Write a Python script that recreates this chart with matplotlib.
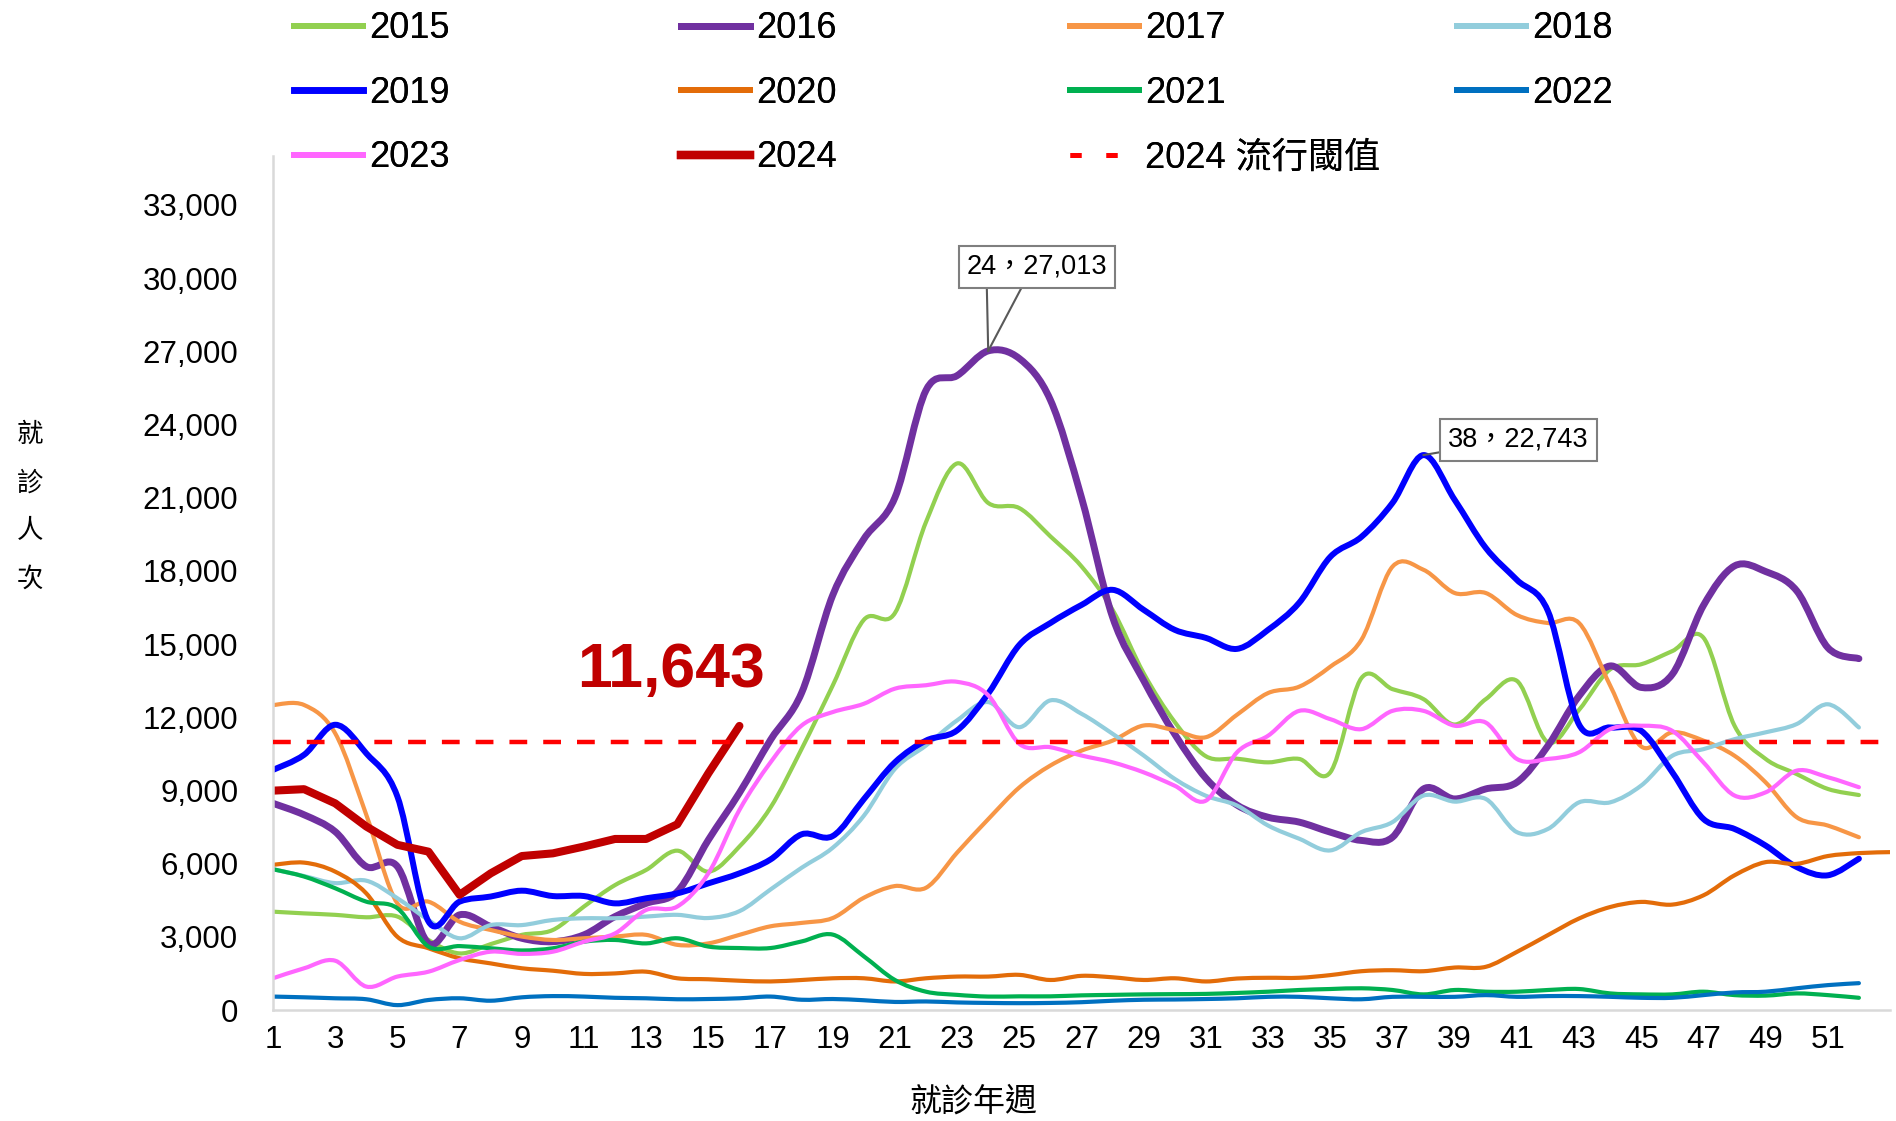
import numpy as np
import matplotlib.pyplot as plt
from matplotlib.path import Path
from matplotlib.patches import PathPatch
from matplotlib.lines import Line2D
from matplotlib.ticker import FuncFormatter

plt.rcParams['font.family'] = ['Liberation Sans', 'Noto Sans CJK TC', 'DejaVu Sans']

weeks = list(range(1, 53))
weeks_2020 = list(range(1, 54))
weeks_2024 = list(range(1, 17))

y2015 = [4030, 3960, 3900, 3800, 3830, 2870, 2320, 2700, 3080, 3280, 4240, 5120, 5740, 6530, 5670, 6700,
         8300, 10700, 13300, 15990, 16270, 20000, 22400, 20780, 20570, 19410, 18180, 16400, 13800, 11800,
         10400, 10300, 10150, 10290, 9740, 13600, 13150, 12740, 11700, 12740, 13490, 10970, 12300, 13960,
         14170, 14710, 15260, 11650, 10290, 9670, 9060, 8810]
y2016 = [8470, 8000, 7310, 5880, 5880, 2730, 3900, 3420, 2940, 2800, 3080, 3830, 4370, 4850, 6970, 8900,
         11070, 13000, 17000, 19300, 21000, 25400, 26000, 27013, 26700, 25000, 21000, 16100, 13500, 11300,
         9500, 8400, 7900, 7700, 7290, 6950, 7080, 9060, 8650, 9060, 9330, 10830, 12870, 14100, 13220,
         13760, 16580, 18200, 17970, 17180, 14850, 14400]
y2017 = [12500, 12500, 11340, 8000, 4370, 4440, 3620, 3280, 3010, 2870, 2940, 3010, 3080, 2670, 2730, 3080,
         3430, 3570, 3770, 4600, 5080, 5010, 6450, 7820, 9120, 10020, 10630, 11040, 11660, 11460, 11180,
         12100, 12990, 13250, 14070, 15170, 18170, 18040, 17090, 17090, 16190, 15860, 15860, 13300, 10800,
         11380, 11040, 10420, 9330, 7900, 7560, 7080]
y2018 = [5770, 5490, 5200, 5300, 4580, 3690, 2940, 3480, 3480, 3690, 3760, 3760, 3830, 3900, 3770, 4050,
         4940, 5830, 6650, 7960, 9880, 10840, 11870, 12620, 11590, 12690, 12140, 11320, 10430, 9470, 8780,
         8380, 7560, 7020, 6540, 7290, 7700, 8790, 8540, 8650, 7290, 7420, 8510, 8510, 9200, 10420, 10690,
         11100, 11380, 11720, 12530, 11580]
y2019 = [9840, 10460, 11690, 10520, 8750, 3630, 4440, 4650, 4890, 4670, 4670, 4370, 4580, 4780, 5190, 5600,
         6170, 7200, 7130, 8640, 10150, 11040, 11460, 12970, 14960, 15860, 16600, 17220, 16400, 15580,
         15250, 14800, 15580, 16690, 18570, 19390, 20780, 22743, 20910, 18940, 17630, 16350, 11700, 11580,
         11440, 9740, 7830, 7420, 6740, 5860, 5520, 6200]
y2020 = [5950, 6040, 5670, 4780, 3000, 2530, 2120, 1910, 1710, 1610, 1480, 1500, 1570, 1300, 1260, 1200,
         1170, 1230, 1300, 1300, 1170, 1300, 1370, 1370, 1440, 1230, 1400, 1340, 1230, 1300, 1170, 1290,
         1320, 1320, 1430, 1590, 1630, 1590, 1740, 1770, 2380, 3070, 3750, 4220, 4430, 4320, 4700, 5520,
         6060, 5990, 6310, 6430, 6470]
y2021 = [5770, 5470, 4990, 4440, 4170, 2600, 2620, 2530, 2440, 2530, 2800, 2870, 2730, 2940, 2600, 2540,
         2540, 2810, 3090, 2200, 1230, 750, 620, 550, 560, 560, 600, 620, 640, 650, 660, 700, 750, 820, 860,
         890, 820, 640, 820, 750, 750, 820, 860, 680, 640, 640, 750, 610, 590, 680, 610, 500]
y2022 = [550, 520, 480, 440, 200, 410, 480, 380, 520, 570, 550, 500, 480, 440, 450, 480, 550, 420, 450, 400,
         330, 350, 310, 290, 280, 290, 320, 380, 420, 430, 450, 480, 540, 540, 480, 440, 540, 540, 540, 610,
         540, 570, 570, 540, 500, 500, 610, 720, 750, 890, 1020, 1100]
y2023 = [1300, 1710, 2020, 960, 1370, 1570, 2050, 2390, 2300, 2390, 2800, 3140, 4100, 4240, 5600, 8200,
         10150, 11660, 12210, 12550, 13170, 13310, 13450, 12900, 10910, 10770, 10430, 10150, 9740, 9190,
         8580, 10560, 11240, 12260, 11920, 11510, 12260, 12260, 11650, 11780, 10290, 10290, 10560, 11510,
         11650, 11440, 10150, 8790, 8920, 9810, 9540, 9130]
y2024 = [8990, 9050, 8470, 7520, 6770, 6490, 4720, 5600, 6310, 6420, 6700, 7010, 7010, 7610, 9700, 11643]
threshold_2024 = 11000

colors = {
    '2015': '#92D050', '2016': '#7030A0', '2017': '#F79646', '2018': '#92CDDC',
    '2019': '#0000FF', '2020': '#E36C09', '2021': '#00B050', '2022': '#0070C0',
    '2023': '#FF66FF', '2024': '#C00000',
}

# name, x, y, line width, legend line width, smoothed
series = [
    ('2015', weeks, y2015, 3.0, 4.3, True),
    ('2016', weeks, y2016, 5.0, 5.0, True),
    ('2017', weeks, y2017, 3.0, 4.3, True),
    ('2018', weeks, y2018, 3.0, 4.3, True),
    ('2019', weeks, y2019, 4.3, 4.8, True),
    ('2020', weeks_2020, y2020, 3.0, 4.3, True),
    ('2021', weeks, y2021, 3.0, 4.3, True),
    ('2022', weeks, y2022, 3.0, 4.3, True),
    ('2023', weeks, y2023, 3.0, 4.3, True),
    ('2024', weeks_2024, y2024, 5.8, 6.0, False),
]


def smooth_path(x, y):
    # Excel-style smoothed line: cubic Bezier through each data point
    pts = np.column_stack([x, y]).astype(float)
    n = len(pts)
    verts = [pts[0]]
    codes = [Path.MOVETO]
    for i in range(n - 1):
        p0 = pts[max(i - 1, 0)]
        p1 = pts[i]
        p2 = pts[i + 1]
        p3 = pts[min(i + 2, n - 1)]
        verts += [p1 + (p2 - p0) / 6, p2 - (p3 - p1) / 6, p2]
        codes += [Path.CURVE4] * 3
    return Path(verts, codes)


fig = plt.figure(figsize=(18.96, 11.21), dpi=100)
ax = fig.add_axes([273 / 1896, 111 / 1121, 1617 / 1896, 854 / 1121])

handles = {}
for i, (name, x, y, lw, leg_lw, smooth) in enumerate(series):
    if smooth:
        patch = PathPatch(smooth_path(x, y), fill=False, edgecolor=colors[name], lw=lw,
                          capstyle='round', joinstyle='round', zorder=2 + i * 0.01)
        ax.add_patch(patch)
    else:
        ax.plot(x, y, color=colors[name], lw=lw, solid_joinstyle='round',
                solid_capstyle='round', zorder=2.5)
    handles[name] = Line2D([], [], color=colors[name], lw=leg_lw)

ax.plot([1, 53], [threshold_2024, threshold_2024], color='#FF0000', lw=3.2,
        dashes=(4, 3.6), zorder=3)
thr_label = '2024 流行閾值'
handles[thr_label] = Line2D([], [], color='#FF0000', lw=3.6, dashes=(2.2, 5))

ax.set_xlim(1, 53)
ax.set_ylim(0, 35000)
ax.set_xticks(range(1, 53, 2))
ax.set_yticks(range(0, 33001, 3000))
ax.yaxis.set_major_formatter(FuncFormatter(lambda v, p: f'{int(v):,}'))
ax.tick_params(axis='both', length=0, labelsize=22.5, colors='black')
ax.tick_params(axis='y', pad=25)
ax.tick_params(axis='x', pad=11)
for s in ['top', 'right']:
    ax.spines[s].set_visible(False)
for s in ['left', 'bottom']:
    ax.spines[s].set_color('#D9D9D9')
    ax.spines[s].set_linewidth(1.8)

# peak callouts
i16 = int(np.argmax(y2016))
px, py = weeks[i16], y2016[i16]
ax.plot([px, px - 0.05], [py, py + 2900], color='#595959', lw=1.5, zorder=4)
ax.plot([px, px + 1.2], [py, py + 2900], color='#595959', lw=1.5, zorder=4)
ax.text(px + 1.57, py + 3450, f'{px}，{py:,}', fontsize=19.5, ha='center', va='center', zorder=5,
        bbox=dict(boxstyle='square,pad=0.3', fc='white', ec='#7F7F7F', lw=1.5))

i19 = int(np.argmax(y2019))
px, py = weeks[i19], y2019[i19]
ax.plot([px, px + 0.9], [py, py + 200], color='#595959', lw=1.5, zorder=4)
ax.text(px + 3.05, py + 630, f'{px}，{py:,}', fontsize=19.5, ha='center', va='center', zorder=5,
        bbox=dict(boxstyle='square,pad=0.3', fc='white', ec='#7F7F7F', lw=1.5))

ax.text(13.8, 13900, f'{y2024[-1]:,}', fontsize=45, fontweight='bold', color='#C00000',
        ha='center', va='center', zorder=5)

# legend: 3 rows x 4 columns, one legend per column
columns = [['2015', '2019', '2023'], ['2016', '2020', '2024'],
           ['2017', '2021', thr_label], ['2018', '2022']]
col_x = [294, 681, 1070, 1457]
for names, cx in zip(columns, col_x):
    leg = fig.legend([handles[n] for n in names], names, loc='upper left',
                     bbox_to_anchor=(cx / 1896, 0.990), frameon=False, fontsize=26,
                     handlelength=1.9, handletextpad=0.17, labelspacing=0.82,
                     borderpad=0, borderaxespad=0)
    fig.add_artist(leg)

fig.text(973 / 1896, 1 - 1102 / 1121, '就診年週', fontsize=23, ha='center', va='center')
for k, ch in enumerate('就診人次'):
    fig.text(30 / 1896, 1 - (435 + 48 * k) / 1121, ch, fontsize=19, ha='center', va='center')

fig.savefig('out.png', dpi=100)
